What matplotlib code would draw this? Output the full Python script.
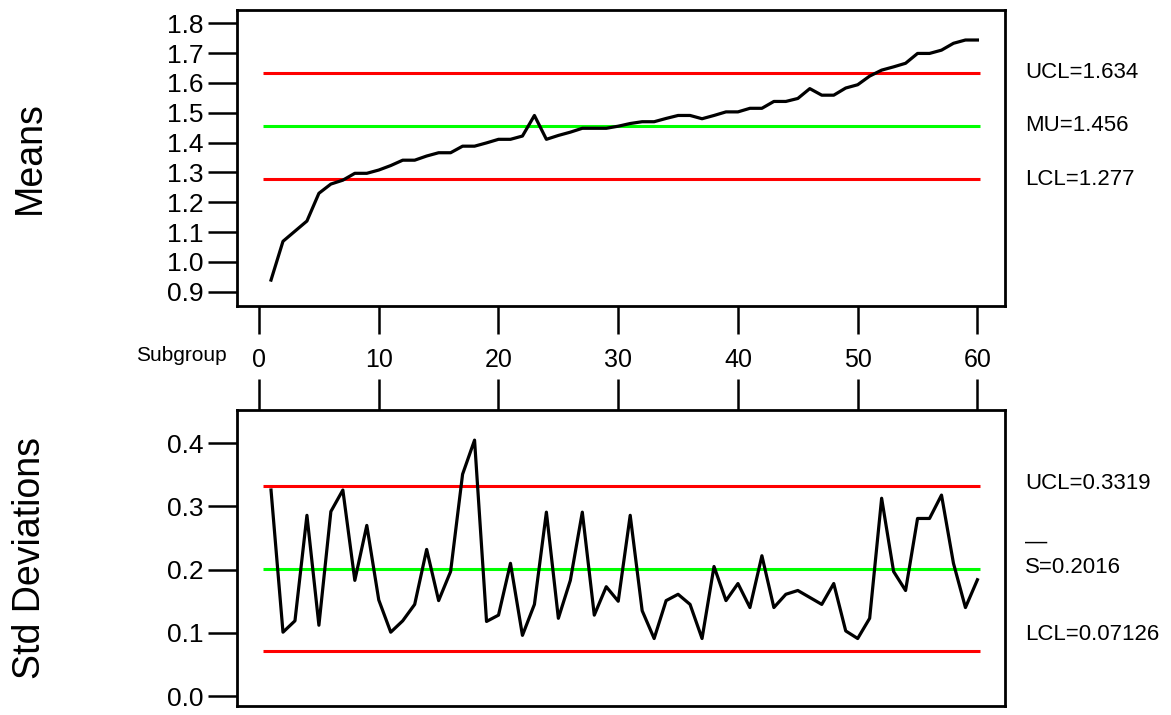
import numpy as np
import matplotlib
matplotlib.use('Agg')
import matplotlib.pyplot as plt

plt.rcParams['font.family'] = ['Liberation Sans Narrow', 'Liberation Sans', 'DejaVu Sans']

# DATA
subgroup = np.arange(1, 61)
means = [0.939, 1.069, 1.103, 1.137, 1.230, 1.261, 1.274, 1.297, 1.297, 1.308,
         1.323, 1.341, 1.341, 1.355, 1.366, 1.366, 1.388, 1.388, 1.399, 1.411,
         1.411, 1.422, 1.491, 1.411, 1.424, 1.435, 1.448, 1.448, 1.448, 1.455,
         1.464, 1.470, 1.470, 1.481, 1.491, 1.491, 1.480, 1.491, 1.503, 1.503,
         1.515, 1.515, 1.538, 1.538, 1.548, 1.581, 1.559, 1.559, 1.583, 1.594,
         1.623, 1.643, 1.654, 1.666, 1.699, 1.699, 1.710, 1.733, 1.744, 1.744]
stds = [0.326, 0.101, 0.119, 0.286, 0.112, 0.292, 0.326, 0.183, 0.270, 0.152,
        0.101, 0.119, 0.145, 0.232, 0.151, 0.197, 0.351, 0.405, 0.118, 0.128,
        0.210, 0.096, 0.145, 0.291, 0.123, 0.183, 0.291, 0.128, 0.173, 0.150,
        0.286, 0.135, 0.091, 0.151, 0.161, 0.145, 0.091, 0.205, 0.151, 0.178,
        0.140, 0.222, 0.140, 0.161, 0.167, 0.156, 0.145, 0.178, 0.103, 0.091,
        0.123, 0.313, 0.197, 0.167, 0.281, 0.281, 0.318, 0.210, 0.140, 0.184]

mean_limits = [1.634, 1.456, 1.277]   # UCL, MU, LCL
mean_labels = ['UCL=1.634', 'MU=1.456', 'LCL=1.277']
std_limits = [0.3319, 0.2016, 0.07126]
std_labels = ['UCL=0.3319', 'S=0.2016', 'LCL=0.07126']
xticks = [0, 10, 20, 30, 40, 50, 60]
mean_yticks = [0.9, 1.0, 1.1, 1.2, 1.3, 1.4, 1.5, 1.6, 1.7, 1.8]
std_yticks = [0.0, 0.1, 0.2, 0.3, 0.4]

fig = plt.figure(figsize=(11.71, 7.15), dpi=100)
ax1 = fig.add_axes([0.2024, 0.572, 0.6558, 0.414])
ax2 = fig.add_axes([0.2024, 0.0126, 0.6558, 0.414])

line_colors = ['#ff0000', '#00ff00', '#ff0000']

for ax in (ax1, ax2):
    for s in ax.spines.values():
        s.set_linewidth(2.0)
    ax.set_xlim(-1.84, 62.3)
    ax.set_xticks(xticks)

# TOP: MEANS
for val, c in zip(mean_limits, line_colors):
    ax1.hlines(val, 0.33, 60.2, colors=c, linewidth=2.2)
ax1.plot(subgroup, means, color='black', linewidth=2.3)
ax1.set_ylim(0.852, 1.8446)
ax1.set_yticks(mean_yticks)
ax1.set_yticklabels(['%.1f' % v for v in mean_yticks])
ax1.tick_params(axis='y', direction='out', length=21, width=1.8, labelsize=19, pad=3)
ax1.tick_params(axis='x', direction='out', length=20, width=1.8, labelsize=18, pad=10)
for val, lab in zip(mean_limits, mean_labels):
    ax1.text(1.026, val, lab, transform=ax1.get_yaxis_transform(),
             ha='left', va='center', fontsize=16)
ax1.text(-0.014, -0.166, 'Subgroup', transform=ax1.transAxes,
         ha='right', va='center', fontsize=15)
ax1.set_ylabel('Means', fontsize=27)
ax1.yaxis.set_label_coords(-0.246, 0.5)

# BOTTOM: STD DEVIATIONS
for val, c in zip(std_limits, line_colors):
    ax2.hlines(val, 0.33, 60.2, colors=c, linewidth=2.2)
ax2.plot(subgroup, stds, color='black', linewidth=2.3)
ax2.set_ylim(-0.0158, 0.4527)
ax2.set_yticks(std_yticks)
ax2.set_yticklabels(['%.1f' % v for v in std_yticks])
ax2.tick_params(axis='y', direction='out', length=21, width=1.8, labelsize=19, pad=3)
ax2.tick_params(axis='x', bottom=False, labelbottom=False, top=True,
                direction='out', length=22, width=1.8)
ax2.text(1.026, 0.337, std_labels[0], transform=ax2.get_yaxis_transform(),
         ha='left', va='center', fontsize=16)
ax2.text(1.026, 0.203, std_labels[1], transform=ax2.get_yaxis_transform(),
         ha='left', va='center', fontsize=16)
ax2.text(1.026, 0.243, '\u2014', transform=ax2.get_yaxis_transform(),
         ha='left', va='center', fontsize=16)
ax2.text(1.026, 0.097, std_labels[2], transform=ax2.get_yaxis_transform(),
         ha='left', va='center', fontsize=16)
ax2.set_ylabel('Std Deviations', fontsize=27)
ax2.yaxis.set_label_coords(-0.246, 0.5)

fig.savefig('out.png', dpi=100)
